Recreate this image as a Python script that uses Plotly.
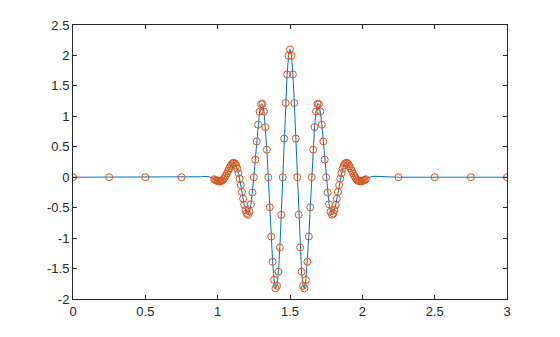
import plotly.graph_objects as go

x_right = [1.50, 1.51, 1.52, 1.53, 1.54, 1.55, 1.56, 1.57, 1.58, 1.59,
           1.60, 1.61, 1.62, 1.63, 1.64, 1.65, 1.66, 1.67, 1.68, 1.69,
           1.70, 1.71, 1.72, 1.73, 1.74, 1.75, 1.76, 1.77, 1.78, 1.79,
           1.800, 1.808, 1.816, 1.824, 1.832, 1.840, 1.848, 1.856, 1.864, 1.872,
           1.880, 1.888, 1.896, 1.904, 1.912, 1.920, 1.928, 1.936, 1.944, 1.952,
           1.960, 1.968, 1.976, 1.984, 1.992, 2.000, 2.008, 2.016, 2.024]
y_right = [2.1, 1.9944, 1.6895, 1.2189, 0.6346, 0.0, -0.6170, -1.1525, -1.5533, -1.7831,
           -1.8257, -1.6860, -1.3887, -0.9743, -0.4932, 0.0, 0.4535, 0.8236, 1.0794, 1.2048,
           1.1995, 1.0772, 0.8628, 0.5886, 0.2897, 0.0, -0.2519, -0.4448, -0.5669, -0.6153,
           -0.5957, -0.5390, -0.4547, -0.3521, -0.2405, -0.1286, -0.0242, 0.0667, 0.1399, 0.1929,
           0.2250, 0.2373, 0.2319, 0.2120, 0.1814, 0.1437, 0.1030, 0.0625, 0.0249, -0.0075,
           -0.0335, -0.0524, -0.0642, -0.0693, -0.0686, -0.0634, -0.0549, -0.0443, -0.0328]

# Left half (x <= 1.5), listed from the centre outwards
x_left = [1.50, 1.49, 1.48, 1.47, 1.46, 1.45, 1.44, 1.43, 1.42, 1.41,
          1.40, 1.39, 1.38, 1.37, 1.36, 1.35, 1.34, 1.33, 1.32, 1.31,
          1.30, 1.29, 1.28, 1.27, 1.26, 1.25, 1.24, 1.23, 1.22, 1.21,
          1.200, 1.192, 1.184, 1.176, 1.168, 1.160, 1.152, 1.144, 1.136, 1.128,
          1.120, 1.112, 1.104, 1.096, 1.088, 1.080, 1.072, 1.064, 1.056, 1.048,
          1.040, 1.032, 1.024, 1.016, 1.008, 1.000, 0.992, 0.984, 0.976]
y_left = [2.1, 1.9944, 1.6895, 1.2189, 0.6346, 0.0, -0.6170, -1.1525, -1.5533, -1.7831,
          -1.8257, -1.6860, -1.3887, -0.9743, -0.4932, 0.0, 0.4535, 0.8236, 1.0794, 1.2048,
          1.1995, 1.0772, 0.8628, 0.5886, 0.2897, 0.0, -0.2519, -0.4448, -0.5669, -0.6153,
          -0.5957, -0.5390, -0.4547, -0.3521, -0.2405, -0.1286, -0.0242, 0.0667, 0.1399, 0.1929,
          0.2250, 0.2373, 0.2319, 0.2120, 0.1814, 0.1437, 0.1030, 0.0625, 0.0249, -0.0075,
          -0.0335, -0.0524, -0.0642, -0.0693, -0.0686, -0.0634, -0.0549, -0.0443, -0.0328]

# Coarse samples in the flat tails
x_tail_left = [0.0, 0.25, 0.5, 0.75]
x_tail_right = [2.25, 2.5, 2.75, 3.0]
y_tail = [0.0, 0.0, 0.0, 0.0]

# Extra curve points between the tails and the oscillation
x_fill_left = [0.80, 0.86, 0.88, 0.90, 0.92, 0.94, 0.96]
y_fill_left = [0.0, 0.0021, 0.0078, 0.0136, 0.0153, 0.0080, -0.0109]
x_fill_right = [2.04, 2.06, 2.08, 2.10, 2.12, 2.14, 2.20]
y_fill_right = [-0.0109, 0.0080, 0.0153, 0.0136, 0.0078, 0.0021, 0.0]

x_ticks = [0, 0.5, 1, 1.5, 2, 2.5, 3]
x_ticklabels = ["0", "0.5", "1", "1.5", "2", "2.5", "3"]
y_ticks = [-2, -1.5, -1, -0.5, 0, 0.5, 1, 1.5, 2, 2.5]
y_ticklabels = ["-2", "-1.5", "-1", "-0.5", "0", "0.5", "1", "1.5", "2", "2.5"]

# assemble the curve in increasing x order
line_x = x_tail_left + x_fill_left + x_left[::-1] + x_right[1:] + x_fill_right + x_tail_right
line_y = y_tail + y_fill_left + y_left[::-1] + y_right[1:] + y_fill_right + y_tail

pts_x = x_tail_left + x_left[::-1] + x_right[1:] + x_tail_right
pts_y = y_tail + y_left[::-1] + y_right[1:] + y_tail

fig = go.Figure()
fig.add_trace(go.Scatter(x=line_x, y=line_y, mode="lines",
                         line=dict(color="#0072BD", width=1), hoverinfo="skip"))
fig.add_trace(go.Scatter(x=pts_x, y=pts_y, mode="markers",
                         marker=dict(symbol="circle-open", size=7,
                                     line=dict(color="#D95319", width=1),
                                     color="#D95319")))

axis_common = dict(showgrid=False, zeroline=False, showline=True, mirror="ticks",
                   linecolor="#262626", linewidth=1, ticks="inside", ticklen=4,
                   tickcolor="#262626", tickfont=dict(family="Liberation Sans, Arial", size=13,
                                                      color="#262626"))
fig.update_xaxes(range=[0, 3], tickvals=x_ticks, ticktext=x_ticklabels, **axis_common)
fig.update_yaxes(range=[-2, 2.5], tickvals=y_ticks, ticktext=y_ticklabels, **axis_common)
fig.update_layout(width=560, height=337, showlegend=False,
                  margin=dict(l=73, r=53, t=25, b=38),
                  paper_bgcolor="white", plot_bgcolor="white")
fig.write_html("out.html")
